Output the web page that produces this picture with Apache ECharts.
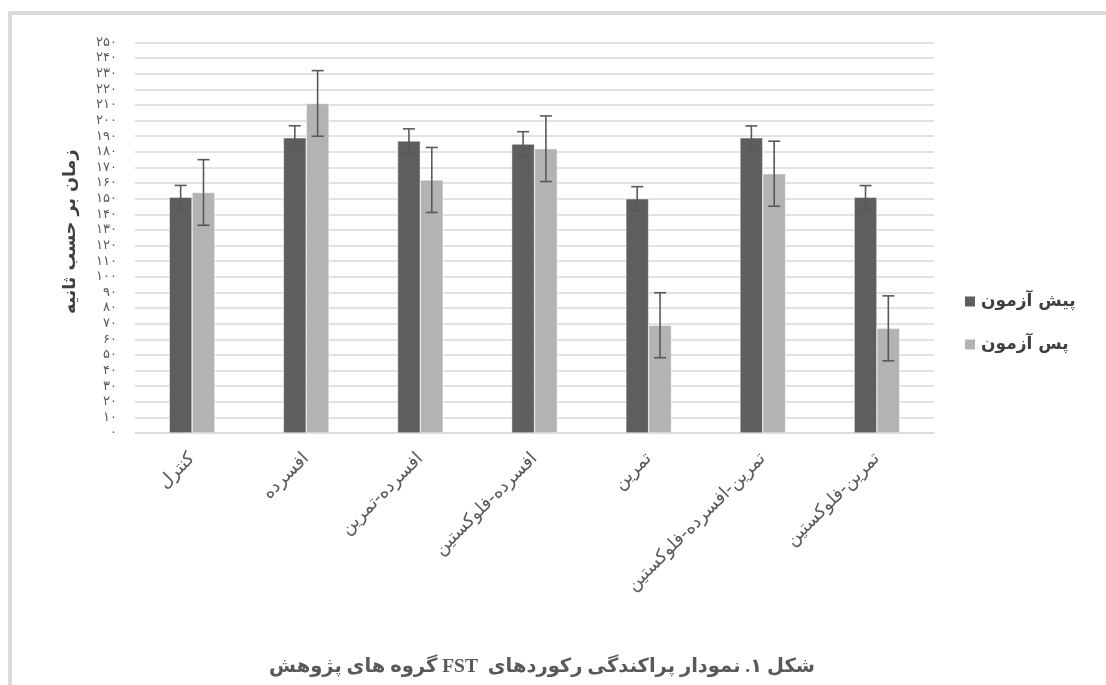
<!DOCTYPE html>
<html>
<head>
<meta charset="utf-8">
<script src="https://cdn.jsdelivr.net/npm/echarts@6/dist/echarts.min.js"></script>
<style>
html,body{margin:0;padding:0;background:#fff;}
#c{width:1106px;height:685px;}
</style>
</head>
<body>
<div id="c"></div>
<script>
const categories = ['کنترل','افسرده','افسرده-تمرین','افسرده-فلوکستین','تمرین','تمرین-افسرده-فلوکستین','تمرین-فلوکستین'];
const seriesNames = ['پیش آزمون','پس آزمون'];
const preTest = [151, 189, 187, 185, 150, 189, 151];
const postTest = [154, 211, 162, 182, 69, 166, 67];
const preErr = [7.5, 7.7, 7.7, 7.9, 7.7, 7.6, 7.4];
const postErr = [21, 21, 20.8, 21, 20.8, 20.8, 20.8];
const yMin = 0, yMax = 250, yStep = 10;
const titleText = 'شکل ۱. نمودار پراکندگی رکوردهای  FST گروه های پژوهش';
const yName = 'زمان بر حسب ثانیه';

const faDigits = '۰۱۲۳۴۵۶۷۸۹';
function toFa(n){ return String(n).replace(/[0-9]/g, d => faDigits[+d]); }

const catGapRatio = 0.6;
function errSeries(values, errs, side){
  return {
    type: 'custom',
    silent: true,
    z: 10,
    data: values.map((v,i) => [i, v - errs[i], v + errs[i]]),
    renderItem: function(params, api){
      const band = api.size([1,0])[0];
      const barW = band * (1 - catGapRatio) / 2;
      const lo = api.coord([api.value(0), api.value(1)]);
      const hi = api.coord([api.value(0), api.value(2)]);
      const x = lo[0] + side * barW / 2;
      const cap = 6;
      const st = {stroke:'#595959', lineWidth:1.6};
      return {type:'group', children:[
        {type:'line', shape:{x1:x,y1:lo[1],x2:x,y2:hi[1]}, style:st},
        {type:'line', shape:{x1:x-cap,y1:lo[1],x2:x+cap,y2:lo[1]}, style:st},
        {type:'line', shape:{x1:x-cap,y1:hi[1],x2:x+cap,y2:hi[1]}, style:st}
      ]};
    },
    encode: {x:0, y:[1,2]}
  };
}

const chart = echarts.init(document.getElementById('c'));
chart.setOption({
  animation: false,
  backgroundColor: '#fff',
  graphic: [{
    type: 'rect', silent: true,
    shape: {x: 10, y: 13, width: 1200, height: 800},
    style: {fill: 'none', stroke: '#dadada', lineWidth: 4}
  }],
  title: {
    text: '\u202B' + titleText + '\u202C',
    left: 537, top: 652, textAlign: 'center',
    textStyle: {fontFamily: 'Liberation Serif, DejaVu Sans', fontWeight: 'bold', fontSize: 19.5, color: '#595959'}
  },
  legend: {
    data: seriesNames,
    orient: 'vertical',
    left: 958, top: 288,
    itemWidth: 12, itemHeight: 12, itemGap: 26,
    icon: 'rect',
    textStyle: {fontFamily: 'DejaVu Sans', fontSize: 17, fontWeight: 'bold', color: '#404040'}
  },
  grid: {left: 135, right: 172, top: 42.5, bottom: 252},
  xAxis: {
    type: 'category',
    data: categories,
    axisLine: {lineStyle: {color: '#d9d9d9', width: 1.5}},
    axisTick: {show: false},
    axisLabel: {rotate: 45, margin: 23, interval: 0, fontFamily: 'DejaVu Sans', fontSize: 18, color: '#595959'}
  },
  yAxis: {
    type: 'value',
    min: yMin, max: yMax, interval: yStep,
    name: yName,
    nameLocation: 'middle', nameRotate: 90, nameGap: 56,
    nameTextStyle: {fontFamily: 'DejaVu Sans', fontSize: 17.5, fontWeight: 'bold', color: '#404040', padding: [0, 0, 0, 12]},
    axisLine: {show: false},
    axisTick: {show: false},
    splitLine: {lineStyle: {color: '#d9d9d9', width: 1.5}},
    axisLabel: {margin: 18, fontFamily: 'DejaVu Sans', fontSize: 13, color: '#595959', formatter: v => toFa(v)}
  },
  series: [
    {name: seriesNames[0], type: 'bar', data: preTest, barGap: '0%', barCategoryGap: '60%',
     itemStyle: {color: '#5e5e5e', borderColor: '#ffffff', borderWidth: 0.5}},
    {name: seriesNames[1], type: 'bar', data: postTest, barGap: '0%', barCategoryGap: '60%',
     itemStyle: {color: '#b3b3b3', borderColor: '#ffffff', borderWidth: 0.5}},
    errSeries(preTest, preErr, -1),
    errSeries(postTest, postErr, 1)
  ]
});
</script>
</body>
</html>
